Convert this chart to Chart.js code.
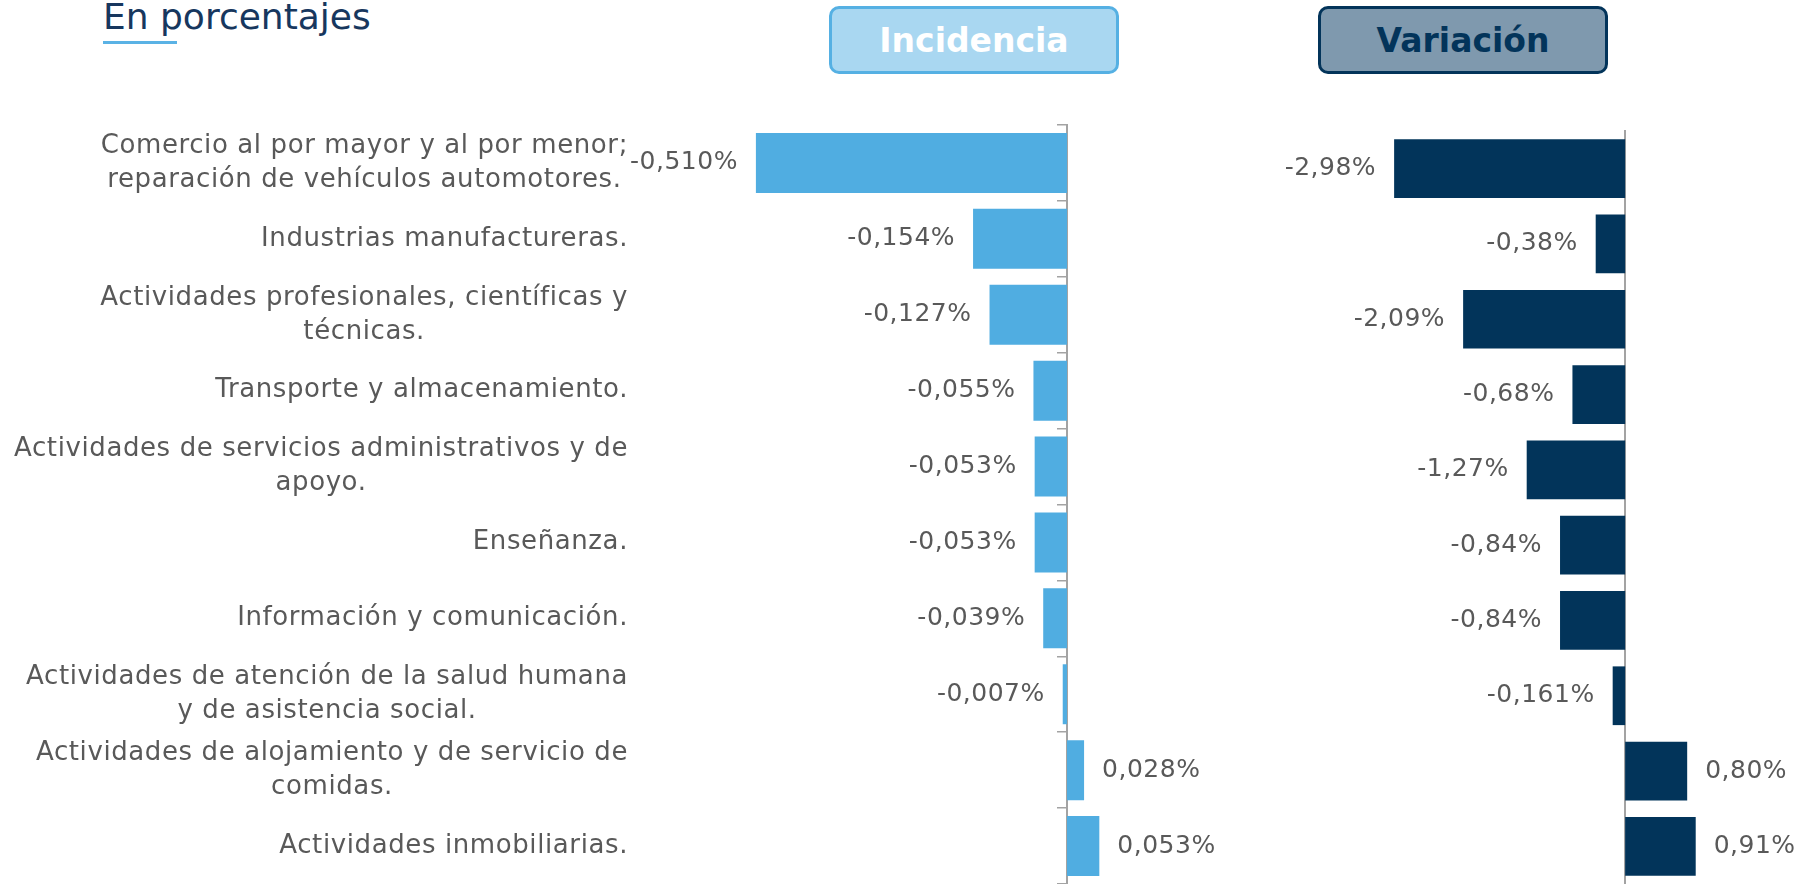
<!DOCTYPE html>
<html lang="es">
<head>
<meta charset="utf-8">
<script src="https://cdn.jsdelivr.net/npm/chart.js@4.4.1/dist/chart.umd.min.js"></script>
<style>
  body { margin: 0; background: #fff; width: 1812px; height: 884px; overflow: hidden; position: relative; font-family: "DejaVu Sans", sans-serif; }
  #titulo { position: absolute; left: 103px; top: -1px; font-size: 36px; line-height: 36px; color: #17375E; white-space: nowrap; }
  #subrayado { position: absolute; left: 103px; top: 41px; width: 74px; height: 3px; background: #5AB2E5; }
  .caja { position: absolute; top: 6px; height: 62px; width: 284px; border-radius: 10px; border: 3px solid; font-weight: bold; font-size: 33px; display: flex; align-items: center; justify-content: center; }
  #cajaInc { left: 829px; background: #A9D7F1; border-color: #55B0E3; color: #fff; }
  #cajaVar { left: 1318px; background: #7F99AE; border-color: #03345A; color: #03345A; }
  #incidencia { position: absolute; left: 0; top: 0; }
  #variacion { position: absolute; left: 1260px; top: 0; }
</style>
</head>
<body>
<div id="titulo">En porcentajes</div>
<div id="subrayado"></div>
<div class="caja" id="cajaInc">Incidencia</div>
<div class="caja" id="cajaVar">Variación</div>
<canvas id="incidencia" width="1260" height="884"></canvas>
<canvas id="variacion" width="552" height="884"></canvas>
<script>
const categorias = [
    ['Comercio al por mayor y al por menor;', 'reparación de vehículos automotores.'],
    ['Industrias manufactureras.'],
    ['Actividades profesionales, científicas y', 'técnicas.'],
    ['Transporte y almacenamiento.'],
    ['Actividades de servicios administrativos y de', 'apoyo.'],
    ['Enseñanza.'],
    ['Información y comunicación.'],
    ['Actividades de atención de la salud humana', 'y de asistencia social.'],
    ['Actividades de alojamiento y de servicio de', 'comidas.'],
    ['Actividades inmobiliarias.']
];
const incidencia = [-0.510, -0.154, -0.127, -0.055, -0.053, -0.053, -0.039, -0.007, 0.028, 0.053];
const incidenciaDecimales = [3, 3, 3, 3, 3, 3, 3, 3, 3, 3];
const variacion = [-2.98, -0.38, -2.09, -0.68, -1.27, -0.84, -0.84, -0.161, 0.80, 0.91];
const variacionDecimales = [2, 2, 2, 2, 2, 2, 2, 3, 2, 2];

const gris = '#595959';
const ejeColor = '#a3a3a3';

function formato(v, d) {
    return v.toFixed(d).replace('.', ',') + '%';
}

// etiquetas de valor al lado de cada barra
const etiquetasValor = {
    id: 'etiquetasValor',
    afterDatasetsDraw(chart, args, opts) {
        const ctx = chart.ctx;
        const meta = chart.getDatasetMeta(0);
        const valores = chart.data.datasets[0].data;
        ctx.save();
        ctx.font = '25px "DejaVu Sans"';
        ctx.letterSpacing = '0.5px';
        ctx.fillStyle = gris;
        ctx.textBaseline = 'middle';
        meta.data.forEach((bar, i) => {
            const v = valores[i];
            const txt = formato(v, opts.decimales[i]);
            if (v < 0) {
                ctx.textAlign = 'right';
                ctx.fillText(txt, bar.x - 18, bar.y);
            } else {
                ctx.textAlign = 'left';
                ctx.fillText(txt, bar.x + 18, bar.y);
            }
        });
        ctx.restore();
    }
};

// nombres de las actividades: bloque alineado a la derecha, lineas centradas
const nombresActividad = {
    id: 'nombresActividad',
    afterDraw(chart) {
        const ctx = chart.ctx;
        const y = chart.scales.y;
        const derecha = 628;
        const lh = 34;
        ctx.save();
        ctx.font = '26px "DejaVu Sans"';
        ctx.letterSpacing = '0.6px';
        ctx.fillStyle = gris;
        ctx.textAlign = 'center';
        ctx.textBaseline = 'middle';
        categorias.forEach((lineas, i) => {
            const cy = y.getPixelForValue(i);
            const ancho = Math.max(...lineas.map(l => ctx.measureText(l).width));
            const cx = derecha - ancho / 2;
            lineas.forEach((l, j) => {
                ctx.fillText(l, cx, cy + (j - (lineas.length - 1) / 2) * lh);
            });
        });
        ctx.restore();
    }
};

new Chart(document.getElementById('incidencia'), {
    type: 'bar',
    data: {
        labels: categorias,
        datasets: [{
            data: incidencia,
            backgroundColor: '#50ADE1',
            borderWidth: 0,
            categoryPercentage: 1,
            barPercentage: 0.79
        }]
    },
    options: {
        indexAxis: 'y',
        responsive: false,
        animation: false,
        devicePixelRatio: 1,
        layout: { padding: { top: 125, bottom: 0, left: 0, right: 0 } },
        plugins: {
            legend: { display: false },
            tooltip: { enabled: false },
            etiquetasValor: { decimales: incidenciaDecimales }
        },
        scales: {
            x: { type: 'linear', min: -0.7, max: 0.3164, display: false },
            y: {
                type: 'category',
                position: 'left',
                ticks: { display: false },
                grid: { display: false },
                border: { display: false },
                afterFit: (s) => { s.width = 640; }
            },
            y2: {
                type: 'category',
                axis: 'y',
                position: { x: 0 },
                offset: true,
                ticks: { display: false },
                grid: { offset: true, drawOnChartArea: false, drawTicks: true, tickLength: 9, color: ejeColor, lineWidth: 1.5 },
                border: { color: ejeColor, width: 2 }
            }
        }
    },
    plugins: [etiquetasValor, nombresActividad]
});

new Chart(document.getElementById('variacion'), {
    type: 'bar',
    data: {
        labels: categorias,
        datasets: [{
            data: variacion,
            backgroundColor: '#02345A',
            borderWidth: 0,
            categoryPercentage: 1,
            barPercentage: 0.78
        }]
    },
    options: {
        indexAxis: 'y',
        responsive: false,
        animation: false,
        devicePixelRatio: 1,
        layout: { padding: { top: 131, bottom: 0, left: 0, right: 0 } },
        plugins: {
            legend: { display: false },
            tooltip: { enabled: false },
            etiquetasValor: { decimales: variacionDecimales }
        },
        scales: {
            x: { type: 'linear', min: -4.71, max: 2.41, display: false },
            y: { type: 'category', display: false },
            y2: {
                type: 'category',
                axis: 'y',
                position: { x: 0 },
                offset: true,
                ticks: { display: false },
                grid: { offset: true, drawOnChartArea: false, drawTicks: false },
                border: { color: ejeColor, width: 2 }
            }
        }
    },
    plugins: [etiquetasValor]
});
</script>
</body>
</html>
